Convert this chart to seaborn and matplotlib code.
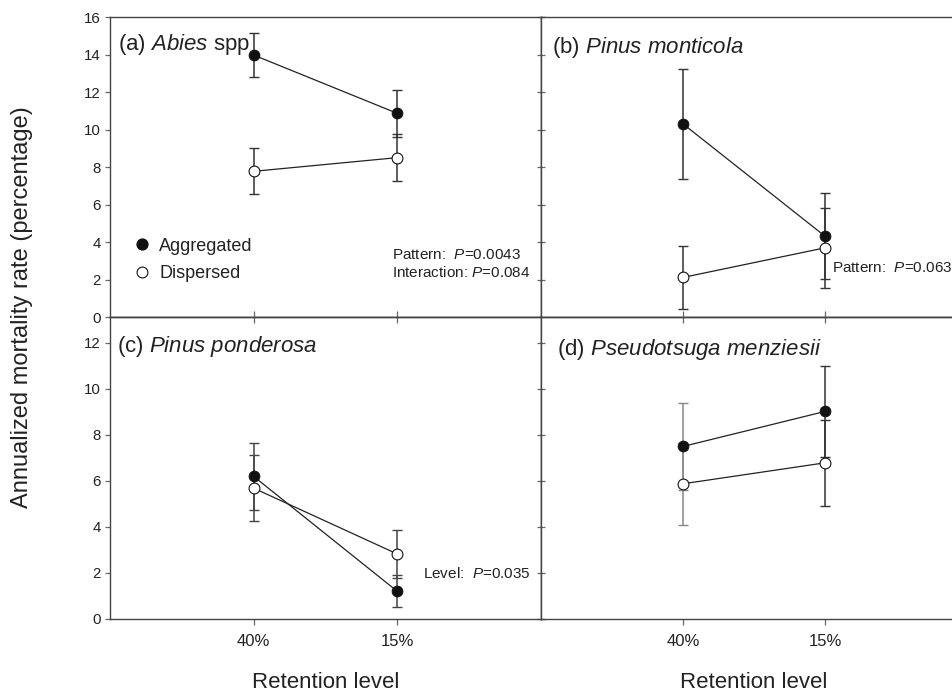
import numpy as np
import pandas as pd
import matplotlib
matplotlib.use("Agg")
import matplotlib.pyplot as plt
from matplotlib.lines import Line2D
import seaborn as sns

# ---------------- data ----------------
categories = ["40%", "15%"]
patterns = ["Aggregated", "Dispersed"]

abies_agg = [13.97, 10.86]
abies_agg_err = [1.19, 1.26]
abies_disp = [7.77, 8.50]
abies_disp_err = [1.22, 1.24]

monticola_agg = [10.30, 4.31]
monticola_agg_err = [2.92, 2.28]
monticola_disp = [2.11, 3.69]
monticola_disp_err = [1.68, 2.15]

ponderosa_agg = [6.19, 1.20]
ponderosa_agg_err = [1.45, 0.70]
ponderosa_disp = [5.68, 2.82]
ponderosa_disp_err = [1.42, 1.03]

menziesii_agg = [7.49, 9.01]
menziesii_agg_err = [1.88, 1.98]
menziesii_disp = [5.87, 6.78]
menziesii_disp_err = [1.78, 1.86]

titles = ["(a) $Abies$ spp", "(b) $Pinus\\ monticola$",
          "(c) $Pinus\\ ponderosa$", "(d) $Pseudotsuga\\ menziesii$"]
stats_text = [["Pattern:  $P$=0.0043", "Interaction: $P$=0.084"],
              ["Pattern:  $P$=0.063"],
              ["Level:  $P$=0.035"],
              []]

# ---------------- style ----------------
sns.set_theme(style="white")
plt.rcParams["font.family"] = ["Liberation Sans", "DejaVu Sans"]
plt.rcParams["mathtext.fontset"] = "custom"
plt.rcParams["mathtext.rm"] = "Liberation Sans"
plt.rcParams["mathtext.it"] = "Liberation Sans:italic"
plt.rcParams["axes.edgecolor"] = "#444444"
plt.rcParams["axes.linewidth"] = 1.0

TXT = "#222222"
W, H = 952, 691
fig = plt.figure(figsize=(W / 100, H / 100), dpi=100)


def pos(x0, y0, x1, y1):
    return [x0 / W, 1 - y1 / H, (x1 - x0) / W, (y1 - y0) / H]


axes = [fig.add_axes(pos(110, 17, 541, 317)),
        fig.add_axes(pos(541, 17, 967, 317)),
        fig.add_axes(pos(110, 317, 541, 619)),
        fig.add_axes(pos(541, 317, 967, 619))]

panels = [
    (abies_agg, abies_agg_err, abies_disp, abies_disp_err),
    (monticola_agg, monticola_agg_err, monticola_disp, monticola_disp_err),
    (ponderosa_agg, ponderosa_agg_err, ponderosa_disp, ponderosa_disp_err),
    (menziesii_agg, menziesii_agg_err, menziesii_disp, menziesii_disp_err),
]
err_colors = [["#333333", "#333333"], ["#333333", "#333333"],
              ["#444444", "#444444"], ["#888888", "#333333"]]
title_pos = [(0.019, 0.95), (0.026, 0.94), (0.016, 0.945), (0.037, 0.935)]
stat_pos = [(0.654, 0.207), (0.683, 0.163), (0.726, 0.152), None]
MS = 7.8

xpos = np.arange(len(categories))

for i, ax in enumerate(axes):
    agg, agg_e, disp, disp_e = panels[i]
    df = pd.DataFrame({
        "pos": np.concatenate([xpos, xpos]),
        "rate": agg + disp,
        "err": agg_e + disp_e,
        "pattern": [patterns[0]] * 2 + [patterns[1]] * 2,
    })
    # error bars
    for j in range(len(df)):
        ax.errorbar(df["pos"].iloc[j], df["rate"].iloc[j], yerr=df["err"].iloc[j],
                    fmt="none", ecolor=err_colors[i][int(df["pos"].iloc[j])],
                    elinewidth=1.1, capsize=3.5, capthick=1.0, zorder=2)
    d_agg = df[df["pattern"] == "Aggregated"]
    d_disp = df[df["pattern"] == "Dispersed"]
    sns.lineplot(data=d_agg, x="pos", y="rate", ax=ax, color="#222222",
                 marker="o", markersize=MS, markerfacecolor="#111111",
                 markeredgecolor="#111111", markeredgewidth=0.6,
                 linewidth=0.9, errorbar=None, zorder=3)
    sns.lineplot(data=d_disp, x="pos", y="rate", ax=ax, color="#222222",
                 marker="o", markersize=MS, markerfacecolor="white",
                 markeredgecolor="#111111", markeredgewidth=0.8,
                 linewidth=0.9, errorbar=None, zorder=3)

    ax.set_xlim(-1, 2)
    if i < 2:
        ax.set_ylim(0, 16)
        ax.set_yticks(np.arange(0, 17, 2))
    else:
        ax.set_ylim(0, 13.11)
        ax.set_yticks(np.arange(0, 13, 2))
    ax.set_xticks(xpos)
    ax.set_xlabel("")
    ax.set_ylabel("")
    for s in ax.spines.values():
        s.set_visible(True)
        s.set_color("#444444")
        s.set_linewidth(1.0)

    if i in (0, 2):
        ax.tick_params(axis="y", which="both", left=True, right=True,
                       labelleft=True, labelright=False, direction="out",
                       length=3.5, width=0.9, pad=3, labelsize=10.8,
                       labelcolor=TXT, color="#666666")
    else:
        ax.tick_params(axis="y", left=True, labelleft=False, direction="in",
                       length=3, width=0.9, color="#666666")

    if i < 2:
        ax.tick_params(axis="x", bottom=False, top=False, labelbottom=False)
    else:
        ax.tick_params(axis="x", bottom=True, top=True, labelbottom=True,
                       direction="out", length=4, width=0.9, pad=7,
                       labelsize=12, labelcolor=TXT, color="#666666")
        ax.set_xticklabels(categories)
        ax.set_xlabel("Retention level", fontsize=16, color=TXT, labelpad=16)

    ax.text(title_pos[i][0], title_pos[i][1], titles[i], transform=ax.transAxes,
            fontsize=16, color=TXT, ha="left", va="top")
    if stat_pos[i] is not None:
        for k, line in enumerate(stats_text[i]):
            ax.text(stat_pos[i][0], stat_pos[i][1] - k * 0.06, line,
                    transform=ax.transAxes, fontsize=11, color=TXT,
                    ha="left", va="center")

# right-hand inward ticks on left panels and top inward ticks on bottom panels
for ax in (axes[0], axes[2]):
    sec = ax.secondary_yaxis("right")
    sec.set_yticks(ax.get_yticks())
    sec.tick_params(direction="in", length=3, width=0.9, labelright=False,
                    color="#666666")
    sec.spines["right"].set_color("#777777")
for ax in (axes[2], axes[3]):
    sec = ax.secondary_xaxis("top")
    sec.set_xticks(xpos)
    sec.tick_params(direction="in", length=4, width=0.9, labeltop=False,
                    color="#666666")
    sec.spines["top"].set_color("#444444")

# legend in panel (a)
handles = [Line2D([], [], linestyle="none", marker="o", markersize=MS,
                  markerfacecolor="#111111", markeredgecolor="#111111"),
           Line2D([], [], linestyle="none", marker="o", markersize=MS,
                  markerfacecolor="white", markeredgecolor="#111111",
                  markeredgewidth=0.8)]
axes[0].legend(handles, patterns, loc="upper left", bbox_to_anchor=(0.053, 0.265),
               frameon=False, fontsize=13, handlelength=1.0, handletextpad=0.45,
               labelspacing=0.6, borderpad=0, borderaxespad=0,
               labelcolor=TXT)

fig.text(22 / W, 1 - 307 / H, "Annualized mortality rate (percentage)",
         rotation=90, ha="center", va="center", fontsize=17, color=TXT)

fig.savefig("out.png", dpi=100)
